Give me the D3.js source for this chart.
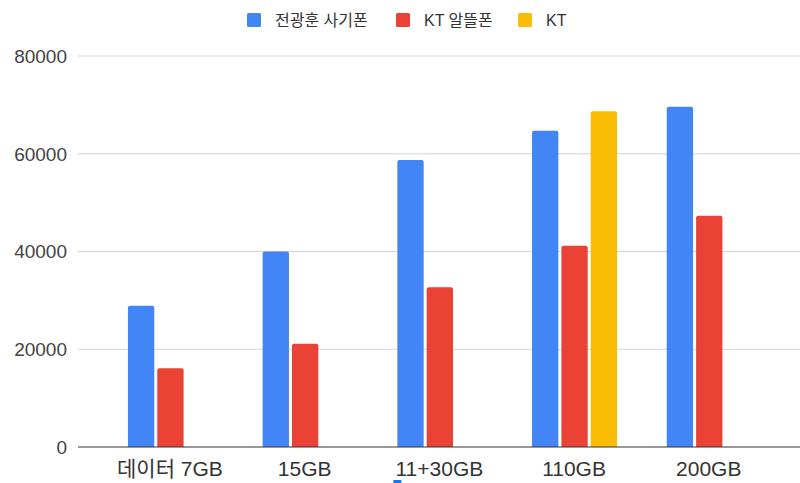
<!DOCTYPE html>
<html>
<head>
<meta charset="utf-8">
<script src="https://cdn.jsdelivr.net/npm/d3@7"></script>
<style>
  html, body { margin: 0; padding: 0; background: #fff; }
  svg { display: block; }
  text { font-family: "Liberation Sans", Arial, "Noto Sans CJK KR", sans-serif; }
</style>
</head>
<body>
<svg id="chart" width="800" height="483"></svg>
<script>
// ---- data ----
const categories = ["데이터 7GB", "15GB", "11+30GB", "110GB", "200GB"];
const seriesNames = ["전광훈 사기폰", "KT 알뜰폰", "KT"];
const seriesColors = ["#4285F4", "#EA4335", "#FBBC04"];
const jeonPhone = [28900, 40000, 58700, 64700, 69600];
const ktBudget  = [16100, 21100, 32700, 41200, 47300];
const ktValues  = [null, null, null, 68700, null];
const yTicks = [0, 20000, 40000, 60000, 80000];

const seriesValues = [jeonPhone, ktBudget, ktValues];

const svg = d3.select("#chart");

const y = d3.scaleLinear().domain([0, 80000]).range([447, 56]);
const x0 = d3.scaleBand().domain(categories).range([102.6, 776.1]).padding(0);
const x1 = d3.scaleBand().domain(seriesNames)
  .range([x0.bandwidth() / 2 - 42, x0.bandwidth() / 2 + 43])
  .paddingInner(0.103).paddingOuter(0);

// gridlines
svg.append("g").selectAll("line")
  .data(yTicks.filter(d => d !== 0))
  .join("line")
  .attr("x1", 78).attr("x2", 800)
  .attr("y1", d => y(d)).attr("y2", d => y(d))
  .attr("stroke", "#d4d4d4").attr("stroke-width", 1);

// y tick labels
svg.append("g").selectAll("text")
  .data(yTicks)
  .join("text")
  .attr("x", 67).attr("y", d => y(d))
  .attr("dy", "0.36em")
  .attr("text-anchor", "end")
  .attr("font-size", 19)
  .attr("fill", "#444")
  .text(d => d);

// bars
function barPath(x, y0, w, h, r) {
  r = Math.min(r, h, w / 2);
  return `M${x},${y0 + h}V${y0 + r}Q${x},${y0} ${x + r},${y0}H${x + w - r}Q${x + w},${y0} ${x + w},${y0 + r}V${y0 + h}Z`;
}
const barData = [];
seriesNames.forEach((s, si) => {
  categories.forEach((c, ci) => {
    const v = seriesValues[si][ci];
    if (v != null) barData.push({ s, c, v, color: seriesColors[si] });
  });
});
svg.append("g").selectAll("path")
  .data(barData)
  .join("path")
  .attr("d", d => {
    const bx = x0(d.c) + x1(d.s);
    const top = y(d.v);
    return barPath(bx, top, x1.bandwidth(), y(0) - top, 2);
  })
  .attr("fill", d => d.color);

// baseline
svg.append("line")
  .attr("x1", 78).attr("x2", 800)
  .attr("y1", y(0)).attr("y2", y(0))
  .attr("stroke", "#333").attr("stroke-width", 1);

// x labels
svg.append("g").selectAll("text")
  .data(categories)
  .join("text")
  .attr("x", d => x0(d) + x0.bandwidth() / 2)
  .attr("y", 476)
  .attr("text-anchor", "middle")
  .attr("font-size", 21)
  .attr("fill", "#333")
  .text(d => d);

// small caret mark under the 3rd label
svg.append("rect")
  .attr("x", x0(categories[2]) + x0.bandwidth() / 2 - 46)
  .attr("y", 480).attr("width", 8).attr("height", 3)
  .attr("fill", "#1a73e8");

// legend
const legendX = [247, 396, 518];
const lg = svg.append("g").selectAll("g")
  .data(seriesNames)
  .join("g")
  .attr("transform", (d, i) => `translate(${legendX[i]},0)`);
lg.append("rect")
  .attr("x", 0).attr("y", 13).attr("width", 14).attr("height", 14).attr("rx", 1.5)
  .attr("fill", (d, i) => seriesColors[i]);
lg.append("text")
  .attr("x", 28).attr("y", 20).attr("dy", "0.35em")
  .attr("font-size", 16)
  .attr("fill", "#333")
  .text(d => d);
</script>
</body>
</html>
